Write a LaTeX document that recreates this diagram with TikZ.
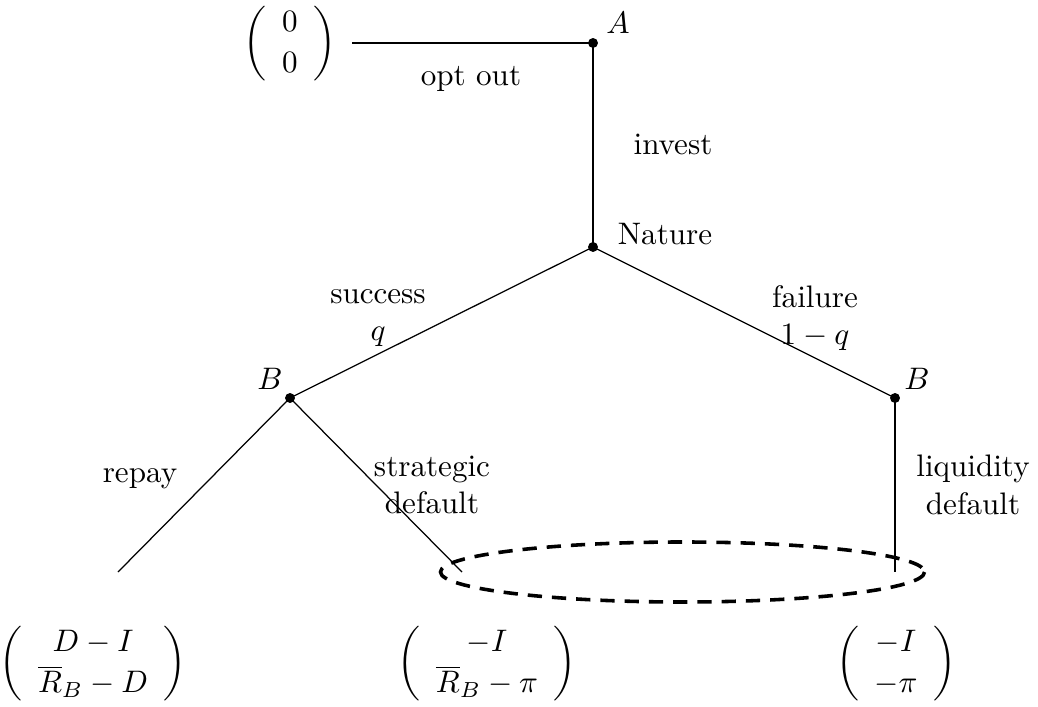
\documentclass[tikz,border=0pt]{standalone}
\usepackage{amsmath}
\begin{document}
\begin{tikzpicture}[x=0.3215pt,y=-0.3215pt,
  dot/.style={circle,fill=black,inner sep=0pt,minimum size=3.2pt},
  thickedge/.style={line width=0.75pt},
  thinedge/.style={line width=0.4pt},
  lbl/.style={inner sep=0pt,align=center},
  payoff/.style={inner sep=0pt},
  infoset/.style={line width=1.15pt,dash pattern=on 4.6pt off 3.2pt}]
\useasboundingbox (0,0) rectangle (1038,707);
% decision nodes
\node[dot] (A) at (593,43) {};
\node[dot] (N) at (593,247) {};
\node[dot] (BL) at (290,398) {};
\node[dot] (BR) at (895,398) {};
% terminal points
\coordinate (O) at (352,43);
\coordinate (T1) at (118,572);
\coordinate (T2) at (462,572);
\coordinate (T3) at (895,572);
% edges
\draw[thickedge] (O) -- (A.center);
\draw[thickedge] (A.center) -- (N.center);
\draw[thinedge] (N.center) -- (BL.center);
\draw[thinedge] (N.center) -- (BR.center);
\draw[thinedge] (BL.center) -- (T1);
\draw[thinedge] (BL.center) -- (T2);
\draw[thickedge] (BR.center) -- (T3);
% information set
\draw[infoset] (682.5,572) ellipse [x radius=242, y radius=30];
% node labels
\node[lbl] (lA) at (618,23) {$A$};
\node[lbl] (lN) at (665,234) {Nature};
\node[lbl] (lBL) at (270,379) {$B$};
\node[lbl] (lBR) at (917,379) {$B$};
% edge labels
\node[lbl] (lopt) at (471,79) {opt out};
\node[lbl] (linv) at (673,144) {invest};
\node[lbl] (lsuc) at (378,318) {success\\$q$};
\node[lbl] (lfail) at (815,318) {failure\\$1-q$};
\node[lbl] (lrep) at (140,479) {repay};
\node[lbl] (lsd) at (432,485) {strategic\\default};
\node[lbl] (lld) at (973,485) {liquidity\\default};
% payoffs
\renewcommand{\arraystretch}{1.1}
\node[payoff] (p0) at (290,44) {$\left(\begin{array}{c}0\\0\end{array}\right)$};
\node[payoff] (p1) at (93,664) {$\left(\begin{array}{c}D-I\\\overline{R}_B-D\end{array}\right)$};
\node[payoff] (p2) at (487,664) {$\left(\begin{array}{c}-I\\\overline{R}_B-\pi\end{array}\right)$};
\node[payoff] (p3) at (896,664) {$\left(\begin{array}{c}-I\\-\pi\end{array}\right)$};
\end{tikzpicture}
\end{document}
